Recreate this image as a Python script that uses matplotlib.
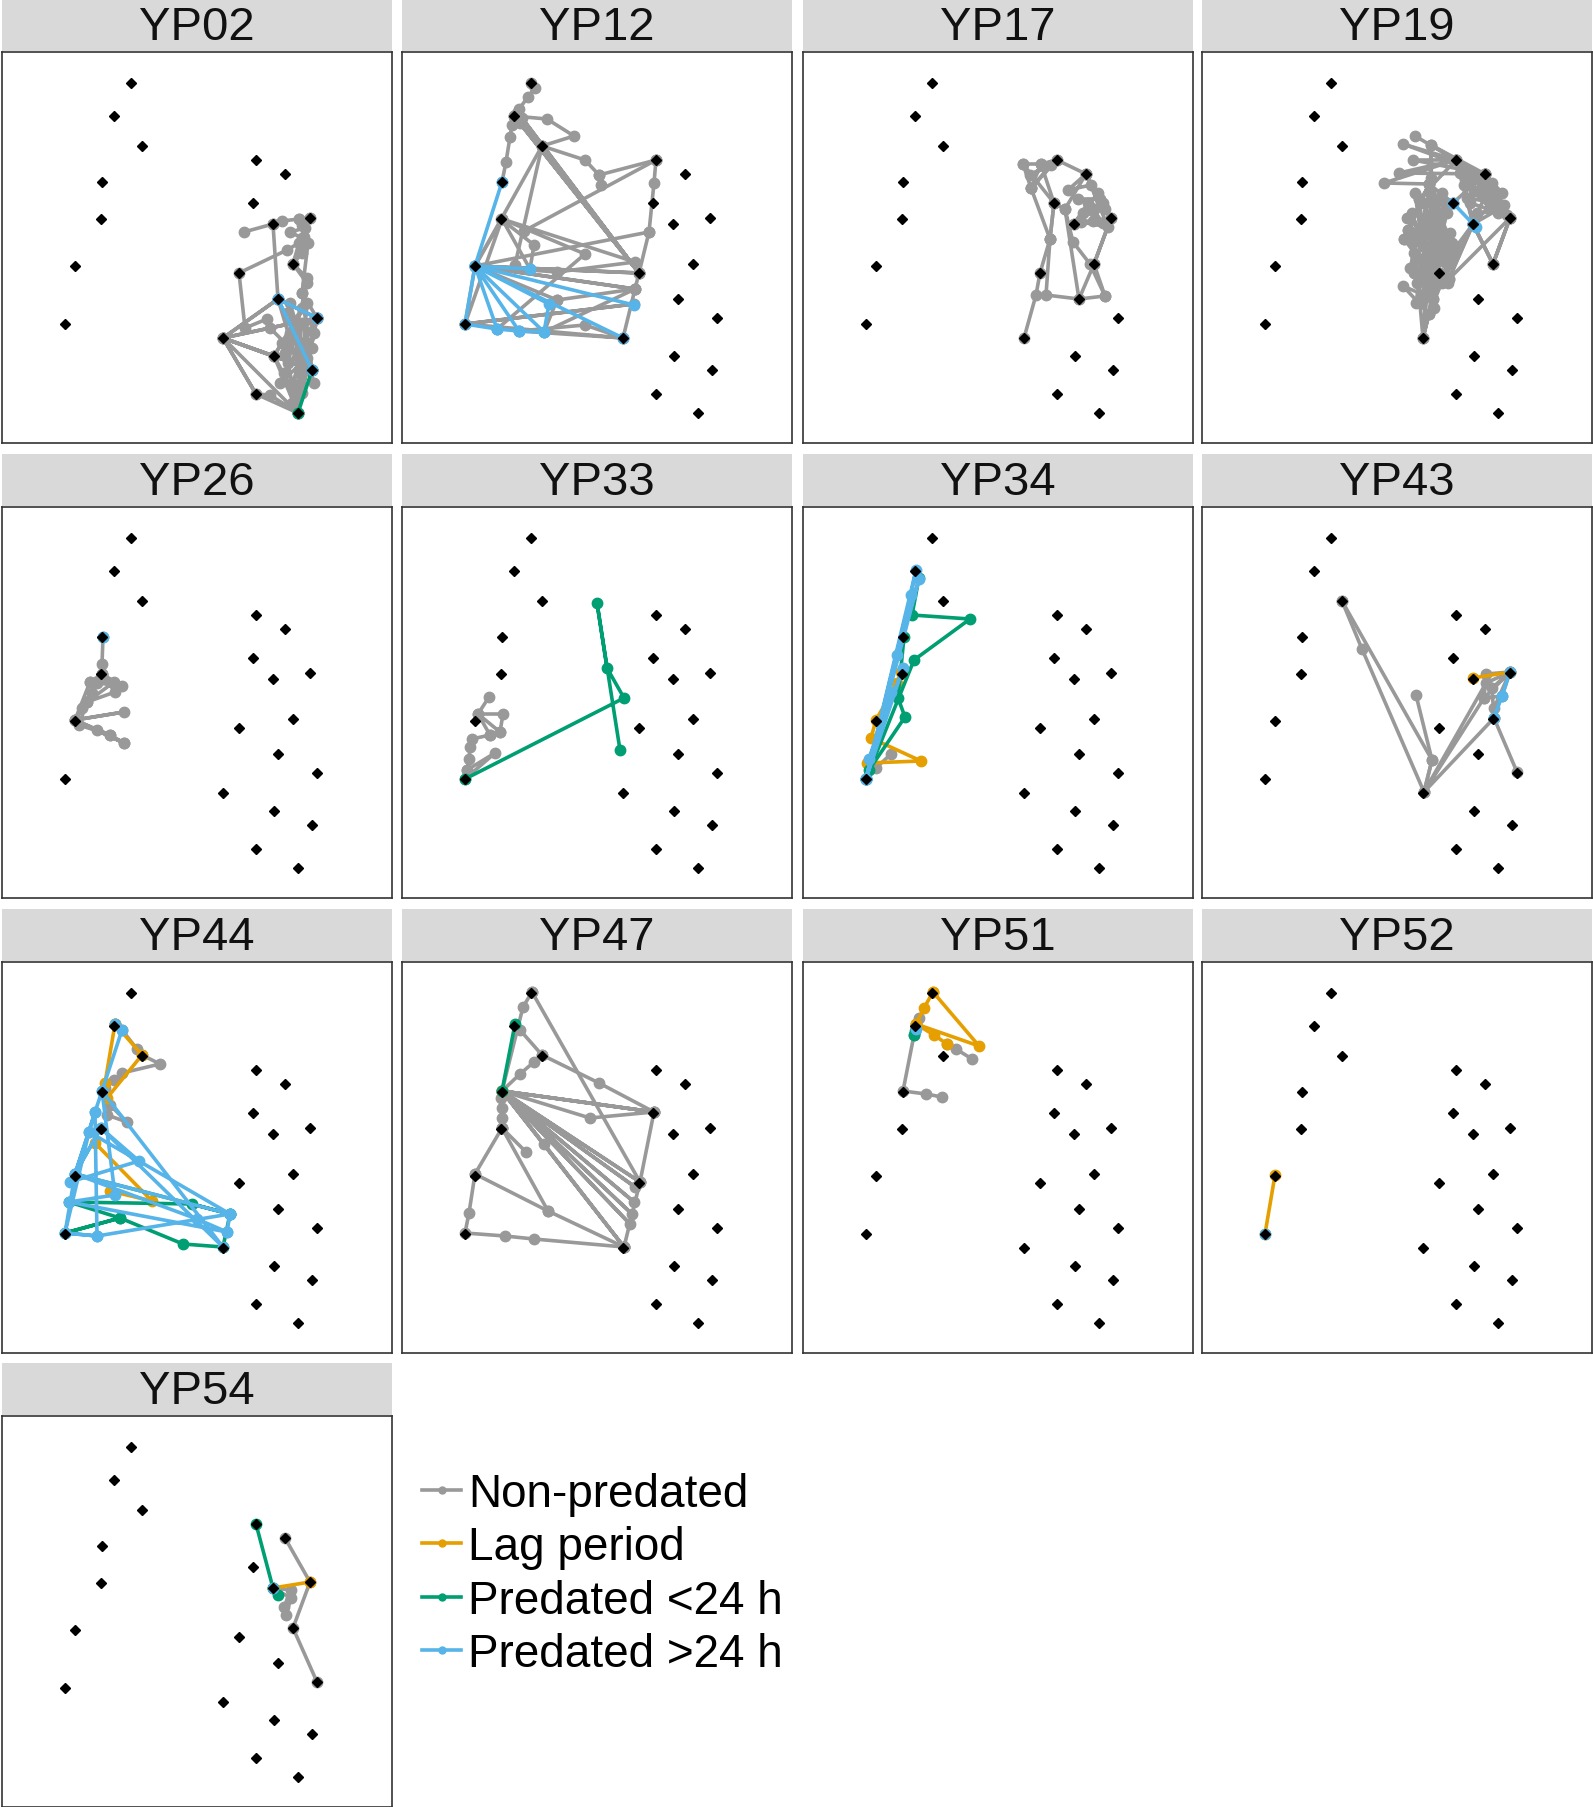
import matplotlib
matplotlib.use("Agg")
import matplotlib.pyplot as plt
from matplotlib.lines import Line2D

plt.rcParams["font.family"] = ["Liberation Sans", "DejaVu Sans"]

# receiver positions (same array in every panel), metres-ish grid
rec_x = [129, 112, 140, 100, 99, 73, 63, 254, 283, 251, 308, 271, 291, 237, 276, 315, 221, 272, 310, 254, 296]
rec_y = [360, 327, 297, 261, 224, 177, 119, 283, 269, 240, 225, 219, 179, 170, 144, 125, 105, 87, 73, 49, 30]

categories = ["Non-predated", "Lag period", "Predated <24 h", "Predated >24 h"]
cat_colors = ["#999999", "#E69F00", "#009E73", "#56B4E9"]

fish_ids = ["YP02", "YP12", "YP17", "YP19", "YP26", "YP33", "YP34", "YP43",
            "YP44", "YP47", "YP51", "YP52", "YP54"]

# tracks: list of (category index, [(x, y), ...])
yp02 = [
    (0, [(242, 211), (271, 219), (280, 222), (297, 224), (308, 225), (300, 218), (297, 224),
         (302, 206), (291, 179), (297, 200), (285, 193), (237, 170), (243, 115), (265, 124)]),
    (0, [(271, 219), (276, 144)]),
    (0, [(221, 105), (276, 144), (221, 105), (315, 125), (221, 105), (272, 87), (221, 105),
         (310, 73), (221, 105), (254, 49), (221, 105), (296, 30), (254, 49), (268, 48), (296, 30)]),
    (0, [(276, 144), (315, 125), (300, 100), (310, 73), (288, 110), (315, 125), (296, 30),
         (290, 60), (312, 110), (285, 130), (310, 73), (272, 87), (305, 140), (296, 30),
         (280, 100), (315, 125), (300, 50), (292, 120), (310, 73), (268, 115), (315, 125),
         (276, 144), (298, 95), (296, 30), (286, 80), (305, 160), (291, 179), (300, 190),
         (306, 200), (300, 150), (310, 73)]),
    (0, [(272, 87), (296, 30), (282, 70), (315, 125), (278, 60), (305, 85), (290, 40),
         (300, 120), (283, 90), (310, 95), (292, 50), (272, 87), (300, 135), (285, 100),
         (312, 60), (288, 140), (298, 70), (276, 144)]),
    (0, [(308, 225), (303, 215), (288, 211), (300, 205), (291, 179), (305, 165), (300, 150), (315, 125)]),
    (3, [(276, 144), (315, 125)]),
    (3, [(276, 144), (310, 73)]),
    (2, [(310, 73), (296, 30)]),
]

yp12 = [
    (0, [(129, 360), (133, 355), (126, 346), (117, 334), (112, 327), (110, 318), (108, 306),
         (104, 281), (100, 261)]),
    (0, [(112, 327), (145, 324), (172, 307), (140, 297), (183, 283), (197, 268), (199, 258)]),
    (0, [(112, 327), (237, 170), (115, 330), (140, 297), (237, 170), (120, 325), (237, 170),
         (118, 320), (237, 170)]),
    (0, [(140, 297), (73, 177)]),
    (0, [(140, 297), (113, 178)]),
    (0, [(254, 283), (197, 268)]),
    (0, [(254, 283), (122, 212)]),
    (0, [(254, 283), (252, 260), (247, 211), (237, 170), (233, 154), (221, 105)]),
    (0, [(73, 177), (237, 170), (73, 177), (233, 154), (73, 177), (247, 211)]),
    (0, [(63, 119), (232, 139), (63, 119), (221, 105), (117, 112), (183, 118), (221, 105)]),
    (0, [(95, 114), (183, 189), (100, 224), (233, 181), (155, 171), (73, 177)]),
    (0, [(155, 143), (233, 154), (142, 111), (155, 143), (73, 177)]),
    (0, [(63, 119), (100, 224), (73, 177), (63, 119)]),
    (0, [(99, 224), (132, 198), (128, 174), (100, 224)]),
    (3, [(100, 261), (73, 177), (128, 174)]),
    (3, [(73, 177), (232, 138)]),
    (3, [(73, 177), (221, 105)]),
    (3, [(73, 177), (142, 111)]),
    (3, [(73, 177), (117, 112)]),
    (3, [(73, 177), (95, 114)]),
    (3, [(73, 177), (63, 119), (95, 114), (117, 112), (142, 111), (147, 139), (73, 177)]),
]

yp17 = [
    (0, [(220, 279), (238, 279), (254, 283), (227, 268), (248, 278), (228, 255), (238, 279),
         (251, 240), (220, 279), (228, 255), (254, 283), (283, 269), (265, 253), (288, 258),
         (283, 269), (297, 244), (275, 244), (302, 234), (308, 225), (278, 221), (305, 216),
         (283, 269), (262, 234), (251, 240), (247, 204), (237, 170), (233, 148), (221, 105)]),
    (0, [(251, 240), (247, 204), (243, 148), (276, 144), (302, 147), (291, 179), (308, 225),
         (291, 179), (276, 144), (262, 234), (270, 201), (287, 179), (302, 147)]),
    (0, [(228, 255), (247, 204)]),
    (0, [(271, 219), (290, 232), (300, 220), (285, 240), (271, 219), (295, 250), (280, 230),
         (300, 240), (290, 222)]),
]

yp19 = [
    (0, [(213, 307), (254, 283), (201, 299), (283, 269), (229, 298), (254, 283), (211, 283),
         (283, 269), (197, 270), (254, 283), (182, 260), (227, 259), (251, 240), (217, 244),
         (254, 283), (277, 251), (308, 225), (283, 269), (297, 234), (271, 219), (254, 283),
         (308, 225), (265, 262), (283, 269), (290, 240), (271, 219), (260, 270), (300, 250),
         (283, 269), (251, 240), (231, 228), (237, 170), (206, 213), (227, 259), (202, 204),
         (237, 170), (214, 184), (221, 105), (227, 129), (201, 157), (231, 144), (237, 170),
         (224, 151), (221, 105), (227, 171), (217, 244), (237, 211), (227, 129), (254, 196),
         (271, 219), (291, 179), (308, 225), (291, 179), (271, 219), (247, 164), (227, 259),
         (251, 191), (214, 184), (231, 228), (202, 204), (227, 171), (229, 298), (231, 144),
         (206, 213), (237, 170), (221, 105)]),
    (0, [(213, 250), (220, 200), (210, 230), (225, 180), (215, 160), (235, 200), (222, 240),
         (240, 190), (218, 215), (230, 160), (212, 190), (228, 250), (208, 175), (236, 230),
         (214, 140), (226, 220), (232, 135), (210, 205), (240, 250), (220, 165)]),
    (0, [(245, 230), (225, 150), (248, 210), (212, 170), (244, 180), (230, 245), (250, 200),
         (218, 140), (242, 240), (235, 165), (205, 225), (247, 188), (229, 265), (246, 160)]),
    (0, [(254, 283), (270, 265), (295, 240), (265, 245), (290, 260), (275, 230), (300, 232),
         (262, 258), (285, 250), (305, 228), (268, 240), (280, 262), (296, 230), (258, 270),
         (288, 235), (272, 252), (302, 238), (283, 269)]),
    (0, [(271, 219), (247, 164), (308, 225), (291, 179), (271, 219), (240, 160)]),
    (3, [(251, 240), (271, 219), (274, 216)]),
]

yp26 = [
    (0, [(101, 261), (100, 234), (100, 224), (88, 216), (120, 212), (100, 224), (113, 206),
         (85, 196), (73, 178), (122, 186), (73, 178), (122, 155), (95, 168), (108, 163),
         (73, 178), (88, 216), (112, 216), (85, 196), (77, 173), (108, 163), (122, 155),
         (73, 178), (100, 224), (90, 205), (80, 190), (95, 215)]),
    (3, [(101, 261)]),
]

yp33 = [
    (0, [(87, 201), (76, 184), (101, 184), (98, 166), (76, 184), (88, 163), (98, 166),
         (88, 163), (70, 159), (68, 151), (67, 139), (65, 128), (63, 119), (93, 145), (65, 128)]),
    (2, [(63, 119), (222, 200), (205, 230), (195, 295), (218, 148)]),
]

yp34 = [
    (0, [(63, 119), (73, 130), (88, 144)]),
    (1, [(98, 226), (94, 215), (73, 178), (68, 160), (118, 137), (64, 135), (63, 119)]),
    (2, [(116, 320), (109, 283), (167, 279), (111, 238), (63, 119)]),
    (2, [(101, 261), (95, 200), (102, 181), (66, 128), (63, 119)]),
    (3, [(63, 119), (113, 328), (108, 303), (63, 119), (116, 319), (94, 243), (63, 119),
         (88, 206), (66, 139), (100, 230), (63, 119)]),
]

yp43 = [
    (0, [(140, 297), (160, 249), (222, 106), (230, 138), (214, 203)]),
    (0, [(140, 297), (230, 138), (222, 106), (282, 200), (308, 226), (284, 224), (282, 200),
         (300, 202), (308, 226), (290, 210), (292, 180), (222, 106), (284, 215), (308, 226),
         (292, 190), (292, 180), (315, 126)]),
    (1, [(271, 220), (308, 226)]),
    (3, [(308, 226), (300, 202), (292, 180)]),
]

yp44 = [
    (0, [(113, 329), (120, 323), (135, 304), (140, 298), (158, 289), (120, 280), (112, 273),
         (103, 265)]),
    (0, [(108, 248), (125, 231), (105, 238)]),
    (1, [(113, 329), (140, 298), (105, 255)]),
    (1, [(113, 329), (103, 270)]),
    (1, [(93, 210), (150, 152), (108, 162)]),
    (2, [(73, 179), (228, 139), (221, 106), (181, 109), (118, 135), (63, 120), (118, 135),
         (67, 151), (190, 149), (228, 139)]),
    (3, [(113, 329), (120, 323), (100, 262), (93, 241), (87, 221), (73, 179), (63, 120),
         (95, 117), (228, 139), (73, 179), (99, 225), (137, 192), (68, 171), (99, 225),
         (221, 106), (100, 262), (113, 158), (67, 151), (225, 121), (195, 134), (73, 179),
         (93, 241), (95, 117), (63, 120), (87, 221), (228, 139), (225, 121)]),
]

yp47 = [
    (0, [(130, 361), (121, 346), (100, 262)]),
    (0, [(130, 361), (238, 171)]),
    (0, [(118, 323), (140, 298), (197, 270), (252, 241)]),
    (0, [(100, 262), (118, 279), (132, 291), (140, 298)]),
    (0, [(100, 262), (252, 241), (100, 262), (188, 235), (252, 241), (100, 262), (238, 171),
         (100, 262), (233, 166), (100, 262), (232, 151), (100, 262), (230, 139), (100, 262),
         (228, 129), (100, 262), (222, 106), (100, 262), (142, 209), (222, 106)]),
    (0, [(252, 241), (238, 171), (222, 106)]),
    (0, [(100, 262), (99, 255), (100, 245), (100, 235), (100, 225), (124, 201)]),
    (0, [(100, 225), (73, 179), (67, 140), (63, 120), (103, 117), (132, 114), (222, 106)]),
    (0, [(73, 179), (146, 142), (222, 106)]),
    (0, [(100, 225), (146, 142)]),
    (2, [(113, 329), (100, 262)]),
    (1, [(100, 262)]),
]

yp51 = [
    (0, [(144, 309), (153, 304), (169, 294)]),
    (0, [(116, 335), (113, 329), (111, 318), (100, 262), (123, 259), (139, 256)]),
    (1, [(130, 361), (121, 345), (113, 329), (176, 307), (130, 361)]),
    (1, [(113, 329), (131, 318), (144, 309)]),
    (2, [(111, 318), (112, 322)]),
    (3, [(113, 324)]),
]

yp52 = [
    (1, [(73, 178), (63, 119)]),
    (3, [(63, 119)]),
]

yp54 = [
    (0, [(283, 269), (308, 225), (291, 179), (315, 125)]),
    (0, [(271, 219), (289, 217), (282, 200), (284, 192), (289, 209), (271, 219)]),
    (2, [(254, 283), (271, 219), (276, 212)]),
    (1, [(271, 219), (308, 225)]),
    (3, [(271, 219)]),
]

tracks = [yp02, yp12, yp17, yp19, yp26, yp33, yp34, yp43, yp44, yp47, yp51, yp52, yp54]

W, H = 1593, 1808
fig = plt.figure(figsize=(W / 100, H / 100), dpi=100)

col_x = [2, 402, 803, 1202]
row_y = [53, 508, 963, 1417]
pw, ph, sh = 390, 391, 52

for i, fish in enumerate(fish_ids):
    r, c = divmod(i, 4)
    x0, y0 = col_x[c], row_y[r]
    ax = fig.add_axes([x0 / W, 1 - (y0 + ph) / H, pw / W, ph / H])
    for cat, pts in tracks[i]:
        xs = [p[0] for p in pts]
        ys = [p[1] for p in pts]
        ax.plot(xs, ys, color=cat_colors[cat], lw=2.6, marker="o", ms=7.5,
                solid_capstyle="round", zorder=2 + cat * 0.1)
    ax.plot(rec_x, rec_y, ls="none", marker="D", ms=5.5, color="black", zorder=5)
    ax.set_xlim(0, 390)
    ax.set_ylim(0, 391)
    ax.set_xticks([])
    ax.set_yticks([])
    for s in ax.spines.values():
        s.set_color("#333333")
        s.set_linewidth(1.2)

    sax = fig.add_axes([x0 / W, 1 - (y0 - 1) / H, pw / W, sh / H])
    sax.set_facecolor("#D9D9D9")
    sax.set_xticks([])
    sax.set_yticks([])
    for s in sax.spines.values():
        s.set_visible(False)
    sax.text(0.5, 0.47, fish, ha="center", va="center", fontsize=34, color="#111111",
             transform=sax.transAxes)

handles = [Line2D([0], [0], color=col, lw=2.6, marker="o", ms=5) for col in cat_colors]
fig.legend(handles, categories, loc="upper left", bbox_to_anchor=(404 / W, 1 - 1455 / H),
           frameon=False, fontsize=33, handlelength=0.85, handletextpad=0.15,
           labelspacing=0.2, borderaxespad=0)

fig.savefig("out.png", dpi=100)
